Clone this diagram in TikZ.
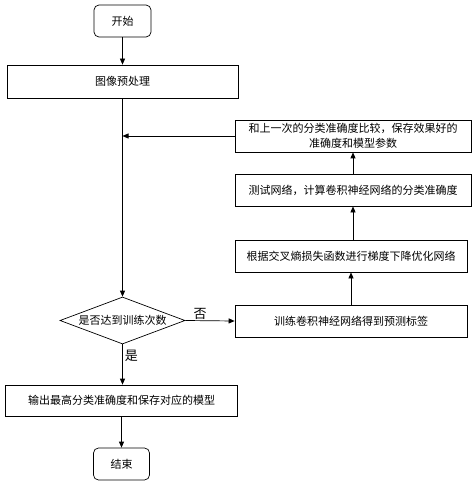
\documentclass[tikz,border=0pt]{standalone}
\usepackage{fontspec}
\newfontfamily\cjk{Noto Sans CJK SC}
\usetikzlibrary{shapes.geometric,arrows.meta}
\begin{document}
\begin{tikzpicture}[x=1pt,y=-1pt,
  line width=0.7pt,
  box/.style={draw,font=\cjk\fontsize{11}{15}\selectfont,inner sep=0pt,align=center},
  term/.style={box,rounded corners=5pt,minimum width=57pt,minimum height=32pt},
  dec/.style={box,diamond,aspect=2.6,minimum width=125pt,minimum height=47pt},
  lbl/.style={font=\cjk\fontsize{13}{13}\selectfont},
  >={Triangle[length=6pt,width=5pt]}]
\useasboundingbox (0,0) rectangle (474,486);
\node[term] (s) at (122.5,21) {开始};
\node[box,minimum width=231pt,minimum height=33pt] (p) at (122.5,81.5) {图像预处理};
\node[box,minimum width=236pt,minimum height=32pt] (c) at (353,136) {和上一次的分类准确度比较，保存效果好的\\准确度和模型参数};
\node[box,minimum width=236pt,minimum height=32pt] (t) at (353,190) {测试网络，计算卷积神经网络的分类准确度};
\node[box,minimum width=232pt,minimum height=32pt] (g) at (351,256) {根据交叉熵损失函数进行梯度下降优化网络};
\node[box,minimum width=232pt,minimum height=32pt] (tr) at (351,321) {训练卷积神经网络得到预测标签};
\node[dec] (d) at (122.5,320.5) {是否达到训练次数};
\node[box,minimum width=232pt,minimum height=31pt] (o) at (121.5,400.5) {输出最高分类准确度和保存对应的模型};
\node[term,minimum width=56pt] (e) at (121.5,464) {结束};
\coordinate (j) at (122.5,136);
\draw[->] (s) to (p);
\draw[->] (p) to (d);
\draw[->] (c.west) to (j);
\draw[->] (tr.north -| g) to (g);
\draw[->] (g.north -| t) to (t);
\draw[->] (t) to (c);
\draw[->] (d.east) to node [lbl,above,pos=0.3,inner sep=1pt] {否} (tr.west);
\draw[->] (d.south) to node [lbl,right,pos=0.28,inner sep=2pt] {是} (d.south |- o.north);
\draw[->] (o.south -| e) to (e);
\end{tikzpicture}
\end{document}
